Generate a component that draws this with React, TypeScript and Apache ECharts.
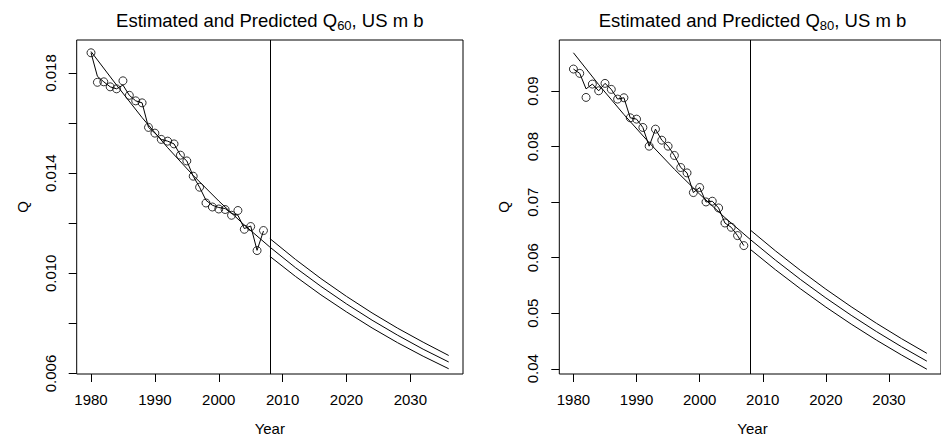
import React, { useEffect, useRef } from "react";
import * as echarts from "echarts";

// ---- data ----
const obsYears = [1980, 1981, 1982, 1983, 1984, 1985, 1986, 1987, 1988, 1989, 1990, 1991, 1992, 1993, 1994, 1995, 1996, 1997, 1998, 1999, 2000, 2001, 2002, 2003, 2004, 2005, 2006, 2007];
const fitYears = [1980, 1984, 1988, 1992, 1996, 2000, 2004, 2008, 2012, 2016, 2020, 2024, 2028, 2032, 2036];
const bandYears = [2008, 2012, 2016, 2020, 2024, 2028, 2032, 2036];

const q60Obs = [0.01881, 0.01763, 0.01765, 0.01745, 0.01737, 0.01769, 0.01711, 0.01689, 0.01681, 0.01583, 0.0156, 0.01535, 0.01528, 0.01517, 0.01472, 0.01449, 0.01388, 0.01344, 0.01281, 0.01265, 0.01257, 0.01255, 0.01232, 0.01251, 0.01176, 0.01187, 0.01091, 0.01171];
const q60Est = [0.01881, 0.01787, 0.01765, 0.01745, 0.01737, 0.01752, 0.01711, 0.01689, 0.01681, 0.01583, 0.0156, 0.01535, 0.01528, 0.01517, 0.01472, 0.01449, 0.01388, 0.01344, 0.01292, 0.01272, 0.01263, 0.01259, 0.01239, 0.01232, 0.01179, 0.01189, 0.01092, 0.01169];
const q60Fit = [0.01886, 0.01752, 0.01622, 0.01502, 0.01391, 0.01289, 0.01193, 0.01105, 0.01023, 0.00948, 0.00878, 0.00813, 0.00753, 0.00697, 0.00646];
const q60Up = [0.01139, 0.01056, 0.00979, 0.00908, 0.00842, 0.00781, 0.00725, 0.00672];
const q60Lo = [0.01068, 0.00988, 0.00914, 0.00846, 0.00782, 0.00723, 0.00669, 0.00619];

const q80Obs = [0.09397, 0.09319, 0.08886, 0.09126, 0.09005, 0.09139, 0.09031, 0.08856, 0.0888, 0.08519, 0.08495, 0.08345, 0.08008, 0.08315, 0.08116, 0.08008, 0.07841, 0.07624, 0.07527, 0.07173, 0.07264, 0.07004, 0.07017, 0.06896, 0.06625, 0.06548, 0.06398, 0.06218];
const q80Est = [0.09397, 0.09319, 0.0904, 0.09126, 0.09005, 0.09139, 0.09031, 0.08856, 0.0888, 0.08519, 0.08495, 0.08345, 0.08008, 0.08315, 0.08116, 0.08008, 0.07841, 0.07624, 0.07527, 0.07173, 0.07264, 0.07004, 0.07017, 0.06896, 0.06625, 0.06548, 0.06398, 0.06218];
const q80Fit = [0.0969, 0.09117, 0.08578, 0.08071, 0.07593, 0.07144, 0.06722, 0.0633, 0.05957, 0.05606, 0.05275, 0.04964, 0.04671, 0.04396, 0.04137];
const q80Up = [0.06501, 0.06124, 0.05769, 0.05433, 0.05118, 0.0482, 0.04541, 0.04278];
const q80Lo = [0.06153, 0.05784, 0.05438, 0.05111, 0.04805, 0.04517, 0.04247, 0.03992];

const xTicks = [1980, 1990, 2000, 2010, 2020, 2030];
const y60Ticks = [0.006, 0.008, 0.01, 0.012, 0.014, 0.016, 0.018];
const y60Labels = [0.006, 0.01, 0.014, 0.018];
const y80Ticks = [0.04, 0.05, 0.06, 0.07, 0.08, 0.09];
const forecastStart = 2008;

const FONT = "Liberation Sans, Arial, Helvetica, sans-serif";

function pairs(xs: number[], ys: number[]) {
  return xs.map((x, i) => [x, ys[i]]);
}

export default function App() {
  const ref = useRef<HTMLDivElement>(null);
  useEffect(() => {
    document.body.style.margin = "0";
    const chart = echarts.init(ref.current!, null, { renderer: "svg" });

    const gridL = { left: 76.7, top: 40, width: 386.3, height: 334 };
    const gridR = { left: 559.3, top: 40, width: 386.3, height: 334 };

    const xAxisCommon = (gi: number) => ({
      type: "value",
      gridIndex: gi,
      min: 1977.76,
      max: 2038.24,
      splitLine: { show: false },
      axisLine: { show: false },
      axisTick: { show: true, length: 8, lineStyle: { color: "#000", width: 1 }, customValues: xTicks },
      axisLabel: {
        color: "#000",
        fontSize: 15,
        fontFamily: FONT,
        margin: 18,
        customValues: xTicks,
        formatter: (v: number) => String(v),
      },
    });

    const yAxisCommon = (gi: number, min: number, max: number, ticks: number[], labels: number[], digits: number) => ({
      type: "value",
      gridIndex: gi,
      min,
      max,
      splitLine: { show: false },
      axisLine: { show: false },
      axisTick: { show: true, length: 8, lineStyle: { color: "#000", width: 1 }, customValues: ticks },
      axisLabel: {
        color: "#000",
        fontSize: 15,
        fontFamily: FONT,
        rotate: 90,
        margin: 19,
        customValues: labels,
        formatter: (v: number) => v.toFixed(digits),
      },
    });

    const lineStyle = { color: "#000", width: 1 };
    const mkSeries = (gi: number, obs: number[], est: number[], fit: number[], up: number[], lo: number[]) => [
      {
        type: "line",
        xAxisIndex: gi,
        yAxisIndex: gi,
        data: pairs(fitYears, fit),
        showSymbol: false,
        lineStyle,
        markLine: {
          silent: true,
          symbol: "none",
          label: { show: false },
          lineStyle: { color: "#000", width: 1, type: "solid" },
          data: [{ xAxis: forecastStart }],
        },
      },
      { type: "line", xAxisIndex: gi, yAxisIndex: gi, data: pairs(bandYears, up), showSymbol: false, lineStyle },
      { type: "line", xAxisIndex: gi, yAxisIndex: gi, data: pairs(bandYears, lo), showSymbol: false, lineStyle },
      { type: "line", xAxisIndex: gi, yAxisIndex: gi, data: pairs(obsYears, est), showSymbol: false, lineStyle },
      {
        type: "scatter",
        xAxisIndex: gi,
        yAxisIndex: gi,
        data: pairs(obsYears, obs),
        symbol: "circle",
        symbolSize: 8,
        itemStyle: { color: "rgba(0,0,0,0)", borderColor: "#000", borderWidth: 1 },
      },
    ];

    const titleText = (cx: number, sub: string) => ({
      type: "text",
      x: cx,
      y: 20,
      style: {
        text: "{a|Estimated and Predicted Q}{s|" + sub + "}{a|, US m b}",
        align: "center",
        verticalAlign: "middle",
        fill: "#000",
        rich: {
          a: { fontSize: 18.5, fontFamily: FONT, fill: "#000", lineHeight: 24, verticalAlign: "middle" },
          s: { fontSize: 13, fontFamily: FONT, fill: "#000", lineHeight: 13, verticalAlign: "bottom" },
        },
      },
    });

    const plainText = (x: number, y: number, text: string, rotation = 0) => ({
      type: "text",
      x,
      y,
      rotation,
      style: { text, align: "center", verticalAlign: "middle", fill: "#000", fontSize: 15, fontFamily: FONT },
    });

    chart.setOption({
      animation: false,
      backgroundColor: "#fff",
      grid: [
        { ...gridL, show: true, borderColor: "#000", borderWidth: 1, backgroundColor: "transparent" },
        { ...gridR, show: true, borderColor: "#000", borderWidth: 1, backgroundColor: "transparent" },
      ],
      xAxis: [xAxisCommon(0), xAxisCommon(1)],
      yAxis: [
        yAxisCommon(0, 0.00598, 0.01932, y60Ticks, y60Labels, 3),
        yAxisCommon(1, 0.03906, 0.0992, y80Ticks, y80Ticks, 2),
      ],
      series: [
        ...mkSeries(0, q60Obs, q60Est, q60Fit, q60Up, q60Lo),
        ...mkSeries(1, q80Obs, q80Est, q80Fit, q80Up, q80Lo),
      ],
      graphic: [
        titleText(269.8, "60"),
        titleText(752.5, "80"),
        plainText(269.8, 428, "Year"),
        plainText(752.5, 428, "Year"),
        plainText(22, 207, "Q", Math.PI / 2),
        plainText(503, 207, "Q", Math.PI / 2),
      ],
    });
    return () => chart.dispose();
  }, []);
  return <div ref={ref} style={{ width: 941, height: 438 }} />;
}
